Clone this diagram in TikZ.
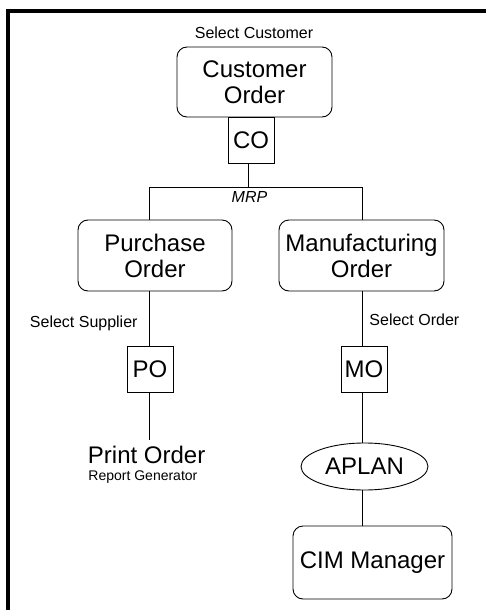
\documentclass[tikz,border=0pt]{standalone}
\usepackage{fontspec}
\setmainfont{Liberation Sans}
\usetikzlibrary{shapes.geometric}
\begin{document}
\begin{tikzpicture}[x=1pt,y=-1pt,
  line width=0.9pt,
  big/.style={font=\fontsize{24}{26}\selectfont},
  small/.style={font=\fontsize{16}{18}\selectfont},
  roundbox/.style={draw, rounded corners=10pt, inner sep=0pt, align=center, big},
  tag/.style={draw, inner sep=0pt, minimum width=46pt, minimum height=46pt, big},
  note/.style={inner sep=0pt, small, anchor=base}
]
\useasboundingbox (0,0) rectangle (486,610);
% heavy frame along the top and left edges
\draw[line width=4.5pt] (8.2,615) -- (8.2,11) -- (490,11);

% column positions of the connectors
\coordinate (colC) at (248.5,0);
\coordinate (colL) at (149,0);
\coordinate (colR) at (362.5,0);
\coordinate (split) at (248.5,187);

% top level
\node[note] (selcust) at (254,38.5) {Select Customer};
\node[roundbox, minimum width=155pt, minimum height=70pt] (cust) at (254.5,82) {Customer\\Order};
\node[tag] (co) at (251,140) {CO};
\node[note, font=\fontsize{16}{18}\selectfont\itshape] (mrp) at (249.5,202) {MRP};

% second level
\node[roundbox, minimum width=154pt, minimum height=71pt] (purch) at (155,255.5) {Purchase\\Order};
\node[roundbox, minimum width=165pt, minimum height=71pt] (manuf) at (361.5,255.5) {Manufacturing\\Order};

\node[note, anchor=base east] (selsup) at (138,327) {Select Supplier};
\node[note, anchor=base west] (selord) at (369,325) {Select Order};

\node[tag] (po) at (150,369) {PO};
\node[tag] (mo) at (364,369) {MO};

% left branch: report
\node[inner sep=0pt, anchor=base west, big] (print) at (87.5,463) {Print Order};
\node[inner sep=0pt, anchor=base west, font=\fontsize{14}{16}\selectfont] (repgen) at (88,480) {Report Generator};
\coordinate (printtop) at (149,440);

% right branch: planning
\node[draw, ellipse, inner sep=0pt, minimum width=127pt, minimum height=47pt, big] (aplan) at (364.5,466.5) {APLAN};
\node[roundbox, minimum width=159pt, minimum height=73pt] (cim) at (372.5,562.5) {CIM Manager};

% connectors
\draw (co.south -| colC) -- (split);
\draw (purch.north -| colL) -- (colL |- split) -- (colR |- split) -- (manuf.north -| colR);
\draw (purch.south -| colL) -- (po.north -| colL);
\draw (manuf.south -| colR) -- (mo.north -| colR);
\draw (po.south -| colL) -- (printtop);
\draw (mo.south -| colR) -- (aplan.north -| colR);
\draw (aplan.south -| colR) -- (cim.north -| colR);
\end{tikzpicture}
\end{document}
